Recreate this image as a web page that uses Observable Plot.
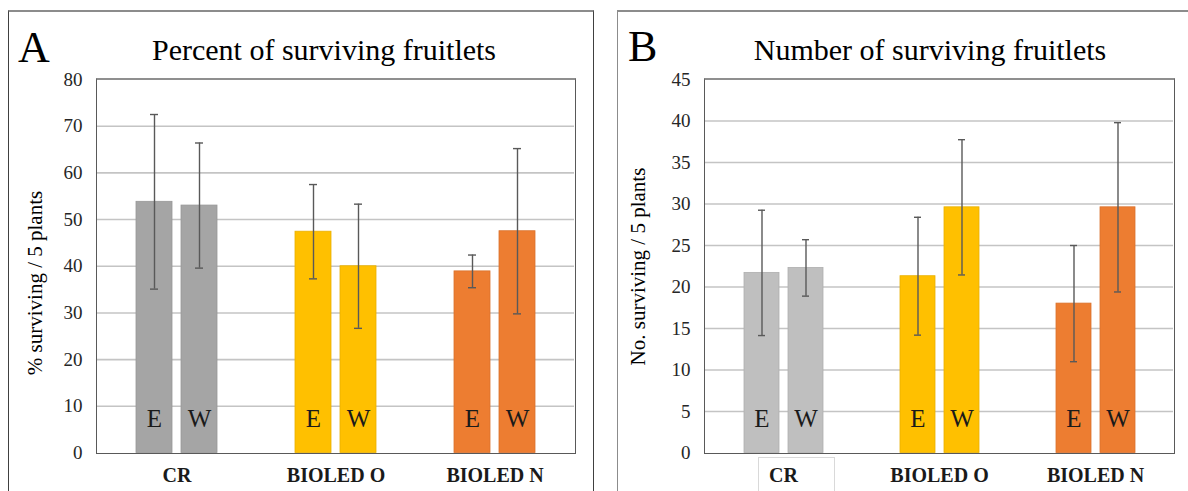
<!DOCTYPE html>
<html><head><meta charset="utf-8">
<script src="https://cdn.jsdelivr.net/npm/d3@7"></script>
<script src="https://cdn.jsdelivr.net/npm/@observablehq/plot@0.6"></script>
<style>
body{margin:0;background:#fff;font-family:"Liberation Serif",serif;}
#page{position:relative;width:1188px;height:491px;overflow:hidden;background:#fff;}
.abs{position:absolute;}
.panel{position:absolute;border:1px solid #404040;border-top:2px solid #8c8c8c;box-sizing:border-box;}
.pframe{position:absolute;border:1px solid #595959;border-top:2px solid #8f8f8f;box-sizing:border-box;pointer-events:none;}
svg, svg text{font-family:"Liberation Serif",serif !important;}
</style></head><body><div id="page"></div>
<script>
// ---- data ----
const groups = ["CR", "BIOLED O", "BIOLED N"];
const subs = ["E", "W"];
const percentMean = [53.8, 53.0, 47.4, 40.0, 38.9, 47.5];
const percentErr  = [18.7, 13.4, 10.1, 13.3, 3.5, 17.7];
const numberMean  = [21.7, 22.3, 21.3, 29.6, 18.0, 29.6];
const numberErr   = [7.55, 3.4, 7.1, 8.15, 7.0, 10.2];
const yTicksA = [0, 10, 20, 30, 40, 50, 60, 70, 80];
const yTicksB = [0, 5, 10, 15, 20, 25, 30, 35, 40, 45];
const colorsA = ["#A5A5A5", "#FFC000", "#ED7D31"];
const colorsB = ["#BFBFBF", "#FFC000", "#ED7D31"];
const titles = ["Percent of surviving fruitlets", "Number of surviving fruitlets"];
const yLabels = ["% surviving / 5 plants", "No. surviving / 5 plants"];
const letters = ["A", "B"];

const FONT = "Liberation Serif";

function rows(means, errs, colors) {
  return means.map((v, i) => ({
    group: groups[Math.floor(i / 2)],
    sub: subs[i % 2],
    value: v,
    lo: v - errs[i],
    hi: v + errs[i],
    color: colors[Math.floor(i / 2)]
  }));
}

const page = document.getElementById("page");

function panel(cfg) {
  const data = rows(cfg.means, cfg.errs, cfg.colors);
  const ticks = cfg.ticks;
  const ymax = ticks[ticks.length - 1];
  const chart = Plot.plot({
    width: cfg.width,
    height: 491,
    marginLeft: cfg.ml,
    marginRight: cfg.mr,
    marginTop: 79,
    marginBottom: 38.5,
    style: {fontFamily: FONT, background: "transparent", color: "#262626", overflow: "visible"},
    fx: {domain: groups, padding: 0},
    x: {domain: subs, paddingInner: 0.21, paddingOuter: 0.85, axis: null},
    y: {domain: [0, ymax]},
    color: {type: "identity"},
    marks: [
      Plot.ruleY(ticks.filter(t => t > 0 && t < ymax), {stroke: "#c4c4c4", strokeWidth: 1.6}),
      Plot.barY(data, {fx: "group", x: "sub", y: "value", fill: "color", stroke: d => d3.color(d.color).darker(0.25).formatHex(), strokeWidth: 0.8}),
      Plot.ruleX(data, {fx: "group", x: "sub", y1: "lo", y2: "hi", stroke: "#595959", strokeWidth: 1.4}),
      Plot.tickY(data, {fx: "group", x: "sub", y: "hi", stroke: "#595959", strokeWidth: 1.4, insetLeft: 14, insetRight: 14}),
      Plot.tickY(data, {fx: "group", x: "sub", y: "lo", stroke: "#595959", strokeWidth: 1.4, insetLeft: 14, insetRight: 14}),
      Plot.text(data, {fx: "group", x: "sub", y: 0, text: "sub", lineAnchor: "bottom", dy: -26, fontSize: 25, fontFamily: FONT, fill: "#1a1a1a"}),
      Plot.axisY(ticks, {tickSize: 0, tickPadding: 15, fontSize: 19, fontFamily: FONT, label: null, fill: "#262626"}),
      Plot.axisFx({anchor: "bottom", tickSize: 0, tickPadding: 15, fontSize: 20, fontFamily: FONT, fontWeight: "bold", label: null, fill: "#1a1a1a"})
    ]
  });
  chart.style.position = "absolute";
  chart.style.left = cfg.left + "px";
  chart.style.top = "0px";
  page.appendChild(chart);

  // plot-area border
  const f = document.createElement("div");
  f.className = "pframe";
  f.style.left = (cfg.left + cfg.ml) + "px";
  f.style.top = "78px";
  f.style.width = (cfg.width - cfg.ml - cfg.mr + 1) + "px";
  f.style.height = (491 - 38.5 - 78 + 1) + "px";
  page.appendChild(f);
}

// panel borders
const pa = document.createElement("div");
pa.className = "panel";
pa.style.cssText = "left:8px;top:10px;width:586px;height:520px;";
page.appendChild(pa);
const pb = document.createElement("div");
pb.className = "panel";
pb.style.cssText = "left:617px;top:10px;width:620px;height:520px;border-left-color:#8c8c8c;";
page.appendChild(pb);

// CR box artifact in panel B
const box = document.createElement("div");
box.className = "abs";
box.style.cssText = "left:758px;top:457px;width:75px;height:60px;border:1px solid #d9d9d9;";
page.appendChild(box);

panel({means: percentMean, errs: percentErr, colors: colorsA, ticks: yTicksA, left: 0, width: 600, ml: 96, mr: 25});
panel({means: numberMean, errs: numberErr, colors: colorsB, ticks: yTicksB, left: 600, width: 588, ml: 104, mr: 14});

// overlay text (titles, letters, y-axis titles)
const ns = "http://www.w3.org/2000/svg";
const ov = document.createElementNS(ns, "svg");
ov.setAttribute("width", 1188); ov.setAttribute("height", 491);
ov.style.cssText = "position:absolute;left:0;top:0;pointer-events:none;";
function txt(s, x, y, size, anchor, rot) {
  const t = document.createElementNS(ns, "text");
  t.textContent = s;
  t.setAttribute("x", x); t.setAttribute("y", y);
  t.setAttribute("font-size", size);
  t.setAttribute("font-family", FONT);
  t.setAttribute("text-anchor", anchor);
  t.setAttribute("fill", "#000");
  if (rot) t.setAttribute("transform", `rotate(-90 ${x} ${y})`);
  ov.appendChild(t);
}
txt(letters[0], 18, 61.5, 44, "start");
txt(titles[0], 324, 60, 30, "middle");
txt(yLabels[0], 41.5, 283, 21, "middle", true);
txt(letters[1], 628, 60.5, 44, "start");
txt(titles[1], 930, 59.5, 30, "middle");
txt(yLabels[1], 644.5, 266.5, 21, "middle", true);
page.appendChild(ov);
</script></body></html>
